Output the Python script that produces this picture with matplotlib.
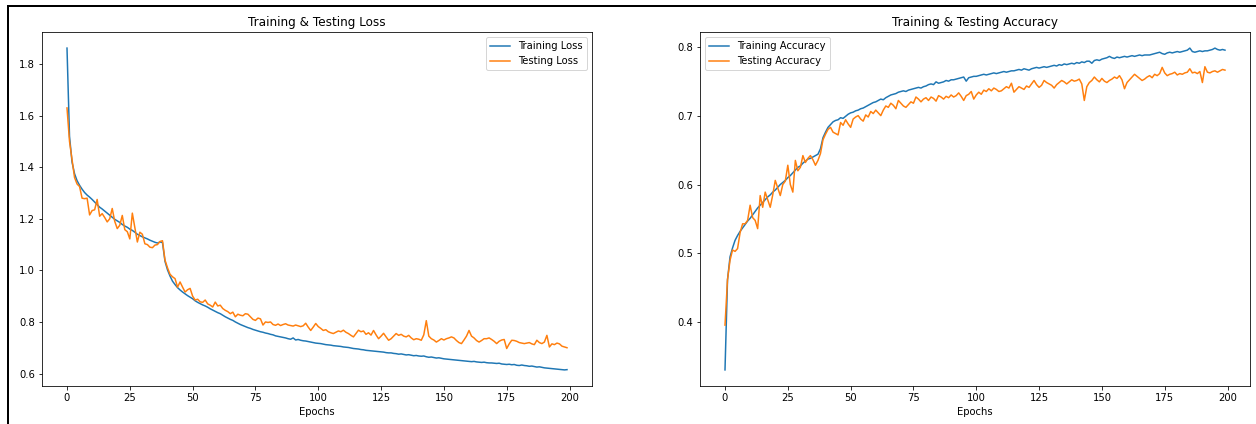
import matplotlib
matplotlib.use("Agg")
import matplotlib.pyplot as plt
from matplotlib.lines import Line2D

train_loss = [
    1.862, 1.520, 1.420, 1.375, 1.348, 1.330, 1.315, 1.302, 1.292, 1.284,
    1.275, 1.265, 1.255, 1.245, 1.238, 1.230, 1.222, 1.214, 1.206, 1.198,
    1.192, 1.186, 1.178, 1.172, 1.167, 1.160, 1.155, 1.148, 1.140, 1.135,
    1.130, 1.126, 1.122, 1.117, 1.113, 1.109, 1.106, 1.110, 1.108, 1.035,
    1.002, 0.978, 0.958, 0.945, 0.933, 0.924, 0.916, 0.909, 0.902, 0.896,
    0.890, 0.882, 0.876, 0.871, 0.866, 0.862, 0.857, 0.851, 0.846, 0.841,
    0.836, 0.832, 0.826, 0.820, 0.815, 0.810, 0.806, 0.800, 0.795, 0.790,
    0.786, 0.782, 0.778, 0.775, 0.771, 0.768, 0.765, 0.762, 0.760, 0.757,
    0.755, 0.752, 0.750, 0.746, 0.744, 0.742, 0.740, 0.738, 0.735, 0.733,
    0.738, 0.730, 0.732, 0.729, 0.727, 0.726, 0.724, 0.722, 0.720, 0.718,
    0.717, 0.716, 0.714, 0.712, 0.711, 0.710, 0.708, 0.707, 0.706, 0.705,
    0.703, 0.702, 0.701, 0.699, 0.697, 0.696, 0.695, 0.693, 0.692, 0.690,
    0.689, 0.688, 0.687, 0.686, 0.685, 0.684, 0.683, 0.681, 0.680, 0.680,
    0.678, 0.677, 0.675, 0.676, 0.674, 0.672, 0.673, 0.671, 0.669, 0.670,
    0.668, 0.667, 0.668, 0.665, 0.663, 0.664, 0.662, 0.660, 0.661, 0.659,
    0.657, 0.656, 0.655, 0.654, 0.653, 0.652, 0.651, 0.650, 0.649, 0.648,
    0.647, 0.646, 0.647, 0.645, 0.644, 0.643, 0.644, 0.642, 0.641, 0.641,
    0.640, 0.639, 0.640, 0.637, 0.636, 0.635, 0.636, 0.634, 0.635, 0.632,
    0.631, 0.633, 0.631, 0.630, 0.628, 0.629, 0.627, 0.625, 0.626, 0.624,
    0.622, 0.621, 0.620, 0.619, 0.618, 0.617, 0.616, 0.615, 0.614, 0.615,
]

test_loss = [
    1.630, 1.500, 1.430, 1.360, 1.335, 1.325, 1.280, 1.278, 1.280, 1.215,
    1.232, 1.235, 1.275, 1.210, 1.220, 1.205, 1.188, 1.200, 1.240, 1.190,
    1.162, 1.175, 1.213, 1.158, 1.150, 1.122, 1.222, 1.165, 1.110, 1.148,
    1.140, 1.103, 1.100, 1.090, 1.088, 1.098, 1.100, 1.112, 1.115, 1.040,
    1.010, 0.985, 0.975, 0.968, 0.935, 0.955, 0.935, 0.916, 0.925, 0.930,
    0.900, 0.885, 0.888, 0.878, 0.876, 0.885, 0.870, 0.865, 0.858, 0.877,
    0.862, 0.865, 0.852, 0.845, 0.840, 0.832, 0.838, 0.820, 0.830, 0.826,
    0.824, 0.832, 0.830, 0.820, 0.810, 0.806, 0.815, 0.812, 0.788, 0.800,
    0.798, 0.800, 0.790, 0.787, 0.792, 0.786, 0.790, 0.793, 0.788, 0.786,
    0.784, 0.788, 0.785, 0.782, 0.785, 0.795, 0.780, 0.767, 0.780, 0.794,
    0.782, 0.775, 0.767, 0.770, 0.762, 0.758, 0.755, 0.760, 0.765, 0.762,
    0.768, 0.760, 0.755, 0.748, 0.742, 0.755, 0.768, 0.762, 0.765, 0.752,
    0.758, 0.749, 0.767, 0.750, 0.735, 0.745, 0.756, 0.742, 0.729, 0.735,
    0.745, 0.755, 0.748, 0.752, 0.745, 0.742, 0.748, 0.738, 0.731, 0.735,
    0.733, 0.729, 0.750, 0.805, 0.745, 0.735, 0.730, 0.722, 0.728, 0.735,
    0.730, 0.735, 0.738, 0.742, 0.738, 0.728, 0.720, 0.716, 0.730, 0.745,
    0.767, 0.745, 0.738, 0.728, 0.722, 0.728, 0.735, 0.735, 0.738, 0.732,
    0.725, 0.716, 0.725, 0.730, 0.732, 0.697, 0.715, 0.729, 0.728, 0.725,
    0.720, 0.718, 0.716, 0.718, 0.720, 0.715, 0.712, 0.729, 0.720, 0.716,
    0.722, 0.748, 0.703, 0.715, 0.712, 0.718, 0.715, 0.706, 0.703, 0.700,
]

train_acc = [
    0.331, 0.462, 0.495, 0.508, 0.519, 0.526, 0.532, 0.537, 0.542, 0.547,
    0.551, 0.556, 0.561, 0.566, 0.570, 0.574, 0.578, 0.582, 0.585, 0.589,
    0.592, 0.596, 0.600, 0.603, 0.606, 0.610, 0.613, 0.617, 0.621, 0.625,
    0.627, 0.631, 0.634, 0.637, 0.638, 0.640, 0.642, 0.644, 0.652, 0.668,
    0.676, 0.683, 0.687, 0.691, 0.693, 0.694, 0.697, 0.696, 0.699, 0.702,
    0.704, 0.705, 0.707, 0.708, 0.710, 0.711, 0.713, 0.715, 0.717, 0.719,
    0.720, 0.722, 0.724, 0.723, 0.726, 0.728, 0.730, 0.731, 0.732, 0.734,
    0.735, 0.736, 0.735, 0.737, 0.738, 0.739, 0.740, 0.741, 0.740, 0.742,
    0.743, 0.745, 0.746, 0.745, 0.749, 0.747, 0.748, 0.749, 0.751, 0.750,
    0.752, 0.752, 0.753, 0.754, 0.755, 0.756, 0.750, 0.755, 0.756, 0.757,
    0.757, 0.758, 0.759, 0.760, 0.759, 0.760, 0.761, 0.762, 0.761, 0.762,
    0.763, 0.764, 0.763, 0.764, 0.765, 0.765, 0.766, 0.767, 0.766, 0.768,
    0.767, 0.766, 0.768, 0.769, 0.770, 0.769, 0.770, 0.771, 0.770, 0.771,
    0.772, 0.773, 0.772, 0.774, 0.773, 0.775, 0.774, 0.775, 0.776, 0.775,
    0.777, 0.776, 0.778, 0.777, 0.779, 0.779, 0.776, 0.780, 0.781, 0.780,
    0.782, 0.783, 0.784, 0.786, 0.784, 0.783, 0.785, 0.784, 0.785, 0.786,
    0.785, 0.786, 0.787, 0.786, 0.787, 0.788, 0.787, 0.788, 0.788, 0.788,
    0.789, 0.790, 0.791, 0.792, 0.790, 0.789, 0.791, 0.792, 0.791, 0.792,
    0.793, 0.792, 0.793, 0.794, 0.795, 0.798, 0.793, 0.792, 0.793, 0.794,
    0.793, 0.794, 0.794, 0.795, 0.796, 0.798, 0.796, 0.795, 0.796, 0.795,
]

test_acc = [
    0.396, 0.462, 0.490, 0.505, 0.503, 0.507, 0.530, 0.543, 0.543, 0.548,
    0.570, 0.552, 0.548, 0.536, 0.584, 0.567, 0.589, 0.578, 0.567, 0.585,
    0.606, 0.595, 0.584, 0.600, 0.605, 0.628, 0.600, 0.589, 0.635, 0.620,
    0.625, 0.642, 0.632, 0.638, 0.642, 0.636, 0.628, 0.635, 0.645, 0.665,
    0.673, 0.680, 0.683, 0.676, 0.674, 0.672, 0.690, 0.686, 0.694, 0.688,
    0.683, 0.695, 0.698, 0.700, 0.695, 0.692, 0.701, 0.698, 0.706, 0.703,
    0.708, 0.704, 0.700, 0.708, 0.714, 0.712, 0.718, 0.715, 0.710, 0.722,
    0.718, 0.714, 0.712, 0.716, 0.720, 0.718, 0.727, 0.724, 0.720, 0.724,
    0.726, 0.722, 0.727, 0.725, 0.721, 0.729, 0.727, 0.724, 0.728, 0.726,
    0.730, 0.727, 0.729, 0.733, 0.728, 0.722, 0.729, 0.731, 0.735, 0.724,
    0.730, 0.734, 0.731, 0.737, 0.735, 0.739, 0.736, 0.740, 0.738, 0.735,
    0.736, 0.739, 0.742, 0.740, 0.747, 0.734, 0.738, 0.742, 0.740, 0.738,
    0.743, 0.741, 0.746, 0.751, 0.745, 0.741, 0.744, 0.751, 0.748, 0.746,
    0.744, 0.740, 0.745, 0.748, 0.751, 0.749, 0.746, 0.749, 0.752, 0.750,
    0.751, 0.753, 0.746, 0.722, 0.742, 0.748, 0.751, 0.756, 0.752, 0.749,
    0.754, 0.750, 0.748, 0.751, 0.753, 0.756, 0.754, 0.758, 0.752, 0.739,
    0.748, 0.752, 0.756, 0.760, 0.757, 0.754, 0.751, 0.753, 0.756, 0.758,
    0.755, 0.760, 0.758, 0.761, 0.770, 0.762, 0.758, 0.760, 0.761, 0.763,
    0.759, 0.761, 0.760, 0.762, 0.763, 0.768, 0.762, 0.763, 0.761, 0.764,
    0.748, 0.771, 0.763, 0.762, 0.764, 0.765, 0.763, 0.765, 0.767, 0.766,
]

epochs = list(range(len(train_loss)))

W, H = 1256, 424
fig = plt.figure(figsize=(W / 72, H / 72), dpi=72)

ax1 = fig.add_axes([42 / W, 1 - 386 / H, 550 / W, 354 / H])
ax2 = fig.add_axes([700 / W, 1 - 386 / H, 550 / W, 354 / H])

ax1.plot(epochs, train_loss, label="Training Loss")
ax1.plot(epochs, test_loss, label="Testing Loss")
ax1.set_title("Training & Testing Loss")
ax1.set_xlabel("Epochs")
ax1.legend(loc="upper right")

ax2.plot(epochs, train_acc, label="Training Accuracy")
ax2.plot(epochs, test_acc, label="Testing Accuracy")
ax2.set_title("Training & Testing Accuracy")
ax2.set_xlabel("Epochs")
ax2.legend(loc="upper left")

# screenshot frame lines (left and top)
fig.add_artist(Line2D([8 / W, 8 / W], [0, 1 - 6 / H], transform=fig.transFigure,
                      color="black", linewidth=2))
fig.add_artist(Line2D([8 / W, 1], [1 - 6 / H, 1 - 6 / H], transform=fig.transFigure,
                      color="black", linewidth=2))

fig.savefig("out.png", dpi=72)
